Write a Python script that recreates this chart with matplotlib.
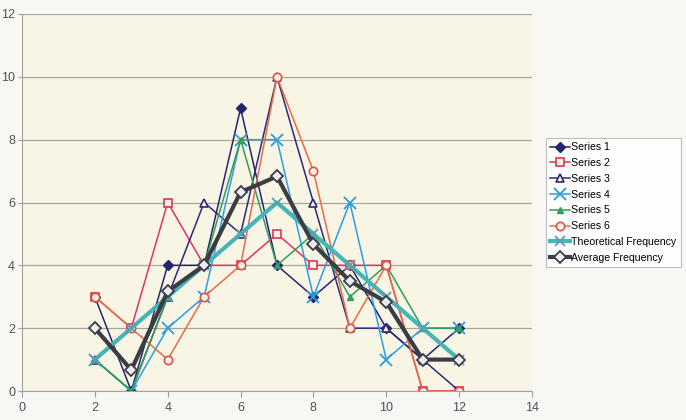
import matplotlib.pyplot as plt

# dice totals and counts per run
x = [2, 3, 4, 5, 6, 7, 8, 9, 10, 11, 12]
series1 = [3, 0, 4, 4, 9, 4, 3, 4, 2, 1, 2]
series2 = [3, 2, 6, 4, 4, 5, 4, 4, 4, 0, 0]
series3 = [1, 0, 3, 6, 5, 10, 6, 2, 2, 1, 0]
series4 = [1, 0, 2, 3, 8, 8, 3, 6, 1, 2, 2]
series5 = [1, 0, 3, 4, 8, 4, 5, 3, 4, 2, 2]
series6 = [3, 2, 1, 3, 4, 10, 7, 2, 4, 0, 0]
theoretical = [1, 2, 3, 4, 5, 6, 5, 4, 3, 2, 1]
average = [2, 0.67, 3.17, 4, 6.33, 6.83, 4.67, 3.5, 2.83, 1, 1]

plt.rcParams['font.family'] = ['Liberation Sans', 'DejaVu Sans']

fig = plt.figure(figsize=(6.86, 4.2), dpi=100, facecolor='#f7f7f4')
ax = fig.add_axes([22/686, 29/420, 510/686, 377/420])
ax.set_facecolor('#f8f5e5')

ax.plot(x, series1, color='#26246e', lw=1.1, marker='D', ms=5, mfc='#26246e', mec='#26246e', label='Series 1')
ax.plot(x, series2, color='#e0345a', lw=1.1, marker='s', ms=6, mfc='#f8f5e5', mec='#e0345a', mew=1.2, label='Series 2')
ax.plot(x, series3, color='#2a2a78', lw=1.1, marker='^', ms=6, mfc='#f8f5e5', mec='#2a2a78', mew=1.2, label='Series 3')
ax.plot(x, series4, color='#2a9ee0', lw=1.1, marker='x', ms=8, mew=1.3, label='Series 4')
ax.plot(x, series5, color='#2e9e58', lw=1.1, marker='^', ms=5, mfc='#3aa070', mec='#2e9e58', label='Series 5')
ax.plot(x, series6, color='#e86a48', lw=1.1, marker='o', ms=6, mfc='#f8f5e5', mec='#e0504a', mew=1.2, label='Series 6')
ax.plot(x, theoretical, color='#45b5b5', lw=3, marker='x', ms=7, mew=1.3, mec='#5aa0b0', label='Theoretical Frequency')
ax.plot(x, average, color='#3c3c46', lw=3, marker='D', ms=6, mfc='#ecebf0', mec='#3c3c46', mew=1.3, label='Average Frequency')

ax.set_xlim(0, 14)
ax.set_ylim(0, 12)
ax.set_xticks(range(0, 15, 2))
ax.set_yticks(range(0, 13, 2))
ax.yaxis.grid(True, color='#a8a69a', lw=0.9)
ax.set_axisbelow(True)
for s in ['top', 'right']:
    ax.spines[s].set_visible(False)
for s in ['left', 'bottom']:
    ax.spines[s].set_color('#a0a0a0')
ax.tick_params(colors='#a0a0a0', labelcolor='#505058', labelsize=9)
ax.tick_params(axis='y', length=3, pad=2)
ax.tick_params(axis='x', length=4, pad=4)

leg = fig.legend(loc='upper left', bbox_to_anchor=(546/686, 1 - 138/420), fontsize=7.6,
                 frameon=True, fancybox=False, edgecolor='#b0b0b0', facecolor='white',
                 handlelength=1.9, handletextpad=0.1, labelspacing=0.55, borderpad=0.4,
                 borderaxespad=0)
leg.get_frame().set_linewidth(0.8)

fig.savefig('out.png', dpi=100, facecolor=fig.get_facecolor())
